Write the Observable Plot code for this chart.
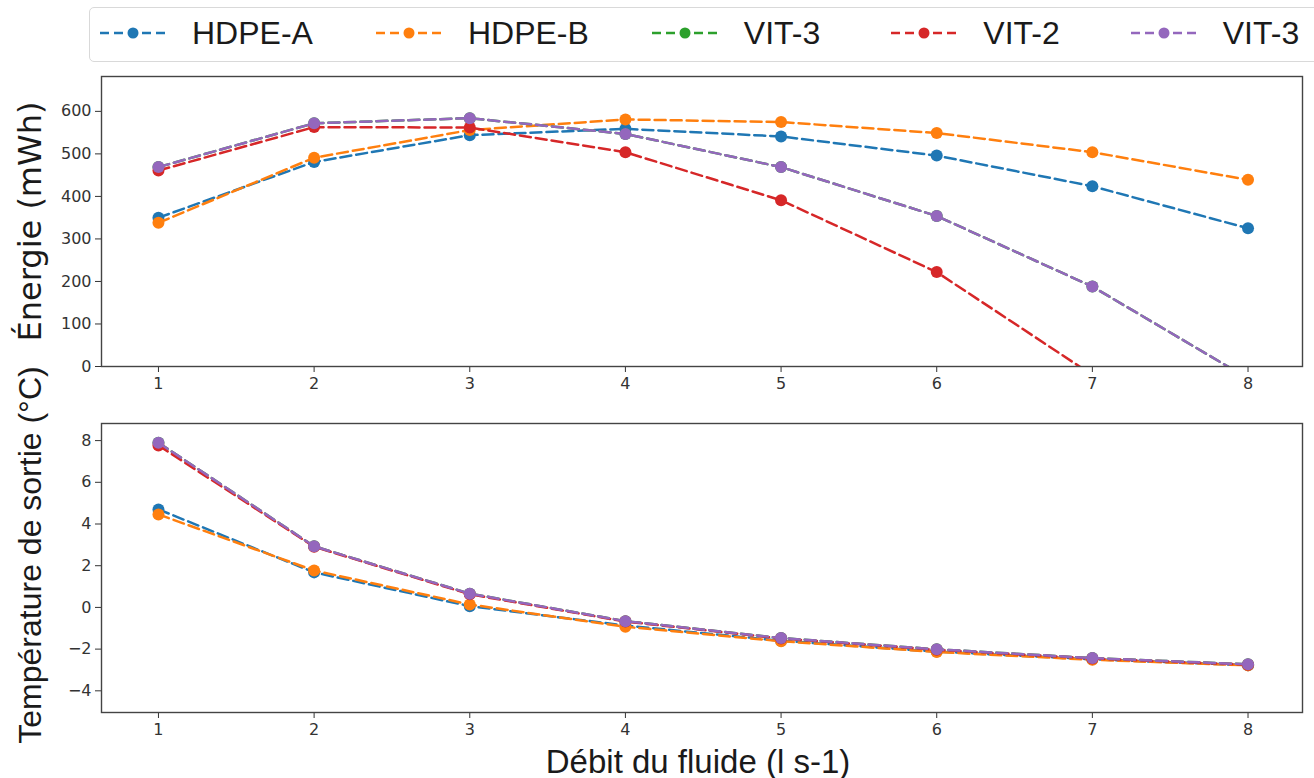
<!DOCTYPE html>
<html><head><meta charset="utf-8">
<script src="https://cdn.jsdelivr.net/npm/d3@7"></script>
<script src="https://cdn.jsdelivr.net/npm/@observablehq/plot@0.6"></script>
<style>
body{margin:0;background:#fff;width:1314px;height:778px;overflow:hidden;position:relative;font-family:"DejaVu Sans"}
#legend{position:absolute;left:89px;top:7px;width:1300px;height:55px;border:1.5px solid #d9d9d9;border-radius:5px;box-sizing:border-box;display:flex;align-items:center;padding-left:10px;padding-bottom:3px}
.item{display:flex;align-items:center;margin-right:63px;flex:none}
.item.vit{margin-right:71px}
.item svg{width:66px;height:20px;margin-right:26px;flex:none}
.item span{font:32px "Liberation Sans";color:#1a1a1a;white-space:nowrap}
#top{position:absolute;left:0;top:66px}
#bot{position:absolute;left:0;top:406px}
svg{overflow:visible}
</style>
</head><body>
<div id="legend"></div>
<div id="top"></div>
<div id="bot"></div>
<script>
// ---- data ----
const xValues = [1, 2, 3, 4, 5, 6, 7, 8];
const seriesLabels = ["HDPE-A", "HDPE-B", "VIT-3", "VIT-2", "VIT-3"];
const seriesColors = ["#1f77b4", "#ff7f0e", "#2ca02c", "#d62728", "#9467bd"];

// Énergie (mWh)
const energyHDPEA = [350, 481, 544, 559, 541, 496, 424, 325];
const energyHDPEB = [338, 491, 556, 581, 575, 549, 504, 439];
const energyVIT3a = [469, 572, 584, 547, 469, 354, 188, -28];
const energyVIT2  = [461, 563, 562, 504, 391, 222, -20, -330];
const energyVIT3b = [469, 572, 584, 547, 469, 354, 188, -28];

// Température de sortie (°C)
const tempHDPEA = [4.70, 1.68, 0.06, -0.87, -1.60, -2.12, -2.49, -2.77];
const tempHDPEB = [4.46, 1.77, 0.14, -0.93, -1.62, -2.14, -2.51, -2.78];
const tempVIT3a = [7.90, 2.93, 0.66, -0.66, -1.47, -2.01, -2.43, -2.73];
const tempVIT2  = [7.77, 2.91, 0.63, -0.68, -1.49, -2.03, -2.45, -2.75];
const tempVIT3b = [7.90, 2.93, 0.66, -0.66, -1.47, -2.01, -2.43, -2.73];

const xTicks = [1, 2, 3, 4, 5, 6, 7, 8];
const energyTicks = [0, 100, 200, 300, 400, 500, 600];
const tempTicks = [-4, -2, 0, 2, 4, 6, 8];

const energySeries = [energyHDPEA, energyHDPEB, energyVIT3a, energyVIT2, energyVIT3b];
const tempSeries = [tempHDPEA, tempHDPEB, tempVIT3a, tempVIT2, tempVIT3b];

// ---- legend ----
const legend = document.getElementById("legend");
seriesLabels.forEach((lab, i) => {
  const it = document.createElement("div");
  it.className = "item" + (lab.startsWith("VIT") ? " vit" : "");
  it.innerHTML = `<svg viewBox="0 0 66 20"><line x1="0" y1="10" x2="66" y2="10" stroke="${seriesColors[i]}" stroke-width="2.6" stroke-dasharray="9,5"/><circle cx="33" cy="10" r="5.5" fill="${seriesColors[i]}"/></svg><span>${lab}</span>`;
  legend.appendChild(it);
});

const dash = "11,5";
function seriesMarks(seriesArr) {
  const marks = [];
  seriesArr.forEach((vals, i) => {
    marks.push(Plot.line(xValues, {x: xValues, y: vals, stroke: seriesColors[i], strokeWidth: 2.5, strokeDasharray: dash, clip: true}));
    marks.push(Plot.dot(xValues, {x: xValues, y: vals, fill: seriesColors[i], r: 6, clip: true}));
  });
  return marks;
}

const common = {
  width: 1314,
  marginLeft: 101,
  marginRight: 12,
  x: {domain: [0.634, 8.35]},
  style: {fontFamily: "DejaVu Sans", fontSize: "16px", color: "#333", background: "transparent", overflow: "visible"}
};

const topPlot = Plot.plot({
  ...common,
  height: 340,
  marginTop: 10,
  marginBottom: 40,
  y: {domain: [0, 682]},
  marks: [
    Plot.axisX({ticks: xTicks, tickSize: 6, tickPadding: 5, label: null, fontSize: 16}),
    Plot.axisY({ticks: energyTicks, tickSize: 6, tickPadding: 4, label: null, fontSize: 16}),
    ...seriesMarks(energySeries),
    Plot.frame({stroke: "#444", strokeWidth: 1.4}),
    Plot.text(["Énergie (mWh)"], {frameAnchor: "left", textAnchor: "middle", lineAnchor: "middle", dx: -71, rotate: -90, text: d => d, fontSize: 32, fontFamily: "DejaVu Sans", fill: "#1a1a1a"})
  ]
});
document.getElementById("top").appendChild(topPlot);

const botPlot = Plot.plot({
  ...common,
  height: 372,
  marginTop: 17,
  marginBottom: 66,
  y: {domain: [-5.04, 8.82]},
  marks: [
    Plot.axisX({ticks: xTicks, tickSize: 6, tickPadding: 5, label: null, fontSize: 16}),
    Plot.axisY({ticks: tempTicks, tickSize: 6, tickPadding: 4, label: null, fontSize: 16}),
    ...seriesMarks(tempSeries),
    Plot.frame({stroke: "#444", strokeWidth: 1.4}),
    Plot.text(["Température de sortie (°C)"], {frameAnchor: "left", textAnchor: "middle", lineAnchor: "middle", dx: -71, dy: -13, rotate: -90, text: d => d, fontSize: 32, fontFamily: "Liberation Sans", fill: "#1a1a1a"}),
    Plot.text(["Débit du fluide (l s-1)"], {frameAnchor: "bottom", textAnchor: "middle", lineAnchor: "bottom", dx: -4, dy: 60, text: d => d, fontSize: 33, fontFamily: "Liberation Sans", fill: "#1a1a1a"})
  ]
});
document.getElementById("bot").appendChild(botPlot);
</script>
</body></html>
